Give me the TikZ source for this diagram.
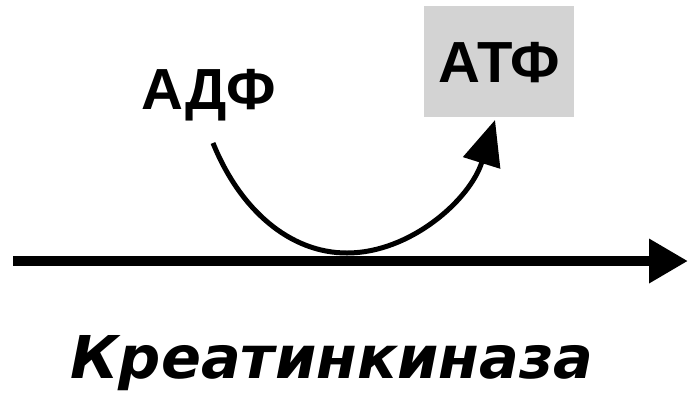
\documentclass[tikz,border=0pt]{standalone}
\usepackage{fontspec}
\setmainfont{Liberation Sans}
\newfontfamily\enzfont{DejaVu Sans}
\usetikzlibrary{arrows.meta}
\definecolor{boxgray}{RGB}{211,211,211}
\tikzset{
  molecule/.style={font=\bfseries\fontsize{58}{60}\selectfont, inner sep=0pt,
                   text height=41.5pt, text depth=0pt},
  product/.style={molecule, fill=boxgray, minimum width=150pt, minimum height=111pt},
  enzyme/.style={font=\enzfont\bfseries\itshape\fontsize{59}{61}\selectfont, inner sep=0pt},
  reaction/.style={line width=5pt, -{Triangle[length=45pt,width=38pt]}},
  mainline/.style={line width=10pt, -{Triangle[length=39pt,width=42pt]}}
}
\begin{document}
\begin{tikzpicture}[x=1pt,y=-1pt]
  \useasboundingbox (0,0) rectangle (688,392);
  % substrate and product
  \node[molecule] (adf) at (209,89) {АДФ};
  \node[product] (atf) at (499,61.5) {АТФ};
  % main reaction axis
  \coordinate (axisstart) at (13,261);
  \coordinate (axisend) at (688,261);
  \draw[mainline] (axisstart) -- (axisend);
  % coupled ADP -> ATP arc
  \coordinate (arcstart) at (213,143);
  \coordinate (arcbottom) at (347,253);
  \coordinate (arctip) at (495,120);
  \draw[reaction] (arcstart) .. controls (240,210) and (290,253) .. (arcbottom)
                  .. controls (410,253) and (470,200) .. (arctip);
  % enzyme label
  \node[enzyme, anchor=base] (enz) at (332,378) {Креатинкиназа};
\end{tikzpicture}
\end{document}
